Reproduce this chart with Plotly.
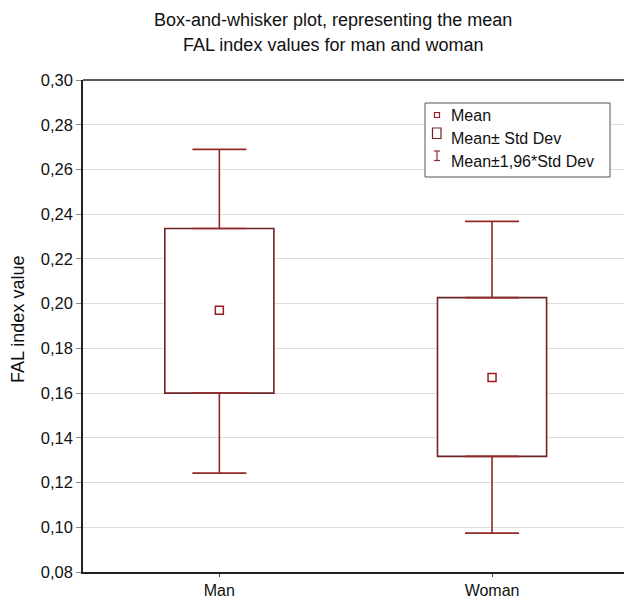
import plotly.graph_objects as go

# ---- data ----
categories = ["Man", "Woman"]
mean_vals = [0.197, 0.167]
box_low = [0.160, 0.1317]      # mean - std dev
box_high = [0.2336, 0.2027]    # mean + std dev
whisk_low = [0.1242, 0.0974]   # mean - 1.96*std dev
whisk_high = [0.269, 0.2368]   # mean + 1.96*std dev
y_ticks = [0.08, 0.10, 0.12, 0.14, 0.16, 0.18, 0.20, 0.22, 0.24, 0.26, 0.28, 0.30]

BOX_C = "#6e2424"
WH_C = "#8e2a2a"
MEAN_C = "#9a1c1c"
FONT = "Liberation Sans, Arial, sans-serif"

W, H = 624, 602
L, R, T, B = 83, 0, 80, 30
PW, PH = W - L - R, H - T - B

# x range: category spacing ~272.7px, first category 136px right of the axis
X_LEFT = -0.5
X_RIGHT = X_LEFT + PW / 272.7


def px(x):
    return (x - L) / PW


def py(y):
    return (H - B - y) / PH


fig = go.Figure()

# boxes (mean ± std dev)
fig.add_trace(go.Bar(
    x=categories,
    y=[h - l for h, l in zip(box_high, box_low)],
    base=box_low,
    width=0.4,
    marker=dict(color="white", line=dict(color=BOX_C, width=1.6)),
    showlegend=False, hoverinfo="skip",
))

# upper whiskers
fig.add_trace(go.Scatter(
    x=categories, y=box_high, mode="markers",
    marker=dict(size=1, color="rgba(0,0,0,0)"),
    error_y=dict(type="data", symmetric=False,
                 array=[w - b for w, b in zip(whisk_high, box_high)],
                 arrayminus=[0, 0], color=WH_C, thickness=1.6, width=27),
    showlegend=False, hoverinfo="skip",
))
# lower whiskers
fig.add_trace(go.Scatter(
    x=categories, y=box_low, mode="markers",
    marker=dict(size=1, color="rgba(0,0,0,0)"),
    error_y=dict(type="data", symmetric=False,
                 array=[0, 0],
                 arrayminus=[b - w for b, w in zip(box_low, whisk_low)],
                 color=WH_C, thickness=1.6, width=27),
    showlegend=False, hoverinfo="skip",
))

# means
fig.add_trace(go.Scatter(
    x=categories, y=mean_vals, mode="markers",
    marker=dict(symbol="square-open", size=8, color=MEAN_C, line=dict(width=1.5, color=MEAN_C)),
    showlegend=False, hoverinfo="skip",
))

shapes = []
annotations = []

# top frame line
shapes.append(dict(type="line", xref="paper", yref="paper", x0=0, x1=1, y0=1, y1=1,
                   line=dict(color="#222222", width=1.5), layer="above"))

# manual legend
shapes.append(dict(type="rect", xref="paper", yref="paper",
                   x0=px(425), x1=px(610), y0=py(103), y1=py(177),
                   line=dict(color="#555555", width=1), fillcolor="white", layer="above"))
# small mean square
shapes.append(dict(type="rect", xref="paper", yref="paper",
                   x0=px(434.5), x1=px(439.5), y0=py(112.5), y1=py(117.5),
                   line=dict(color=MEAN_C, width=1.2), layer="above"))
# std dev box
shapes.append(dict(type="rect", xref="paper", yref="paper",
                   x0=px(432.5), x1=px(441), y0=py(128), y1=py(138.5),
                   line=dict(color=BOX_C, width=1.2), layer="above"))
# I-beam
for seg in [((437, 151), (437, 160.5)), ((434, 151), (440, 151)), ((434, 160.5), (440, 160.5))]:
    (xa, ya), (xb, yb) = seg
    shapes.append(dict(type="line", xref="paper", yref="paper",
                       x0=px(xa), x1=px(xb), y0=py(ya), y1=py(yb),
                       line=dict(color=WH_C, width=1.2), layer="above"))

legend_texts = ["Mean", "Mean\u00b1 Std Dev", "Mean\u00b11,96*Std Dev"]
legend_ys = [115, 138.5, 161]
for t, yy in zip(legend_texts, legend_ys):
    annotations.append(dict(text=t, xref="paper", yref="paper", x=px(449), y=py(yy),
                            xanchor="left", yanchor="middle", showarrow=False,
                            font=dict(family=FONT, size=16, color="#111111")))

# title
annotations.append(dict(text="Box-and-whisker plot, representing the mean",
                        xref="paper", yref="paper", x=px(333), y=py(20),
                        xanchor="center", yanchor="middle", showarrow=False,
                        font=dict(family=FONT, size=18, color="#111111")))
annotations.append(dict(text="FAL index values for man and woman",
                        xref="paper", yref="paper", x=px(333), y=py(45),
                        xanchor="center", yanchor="middle", showarrow=False,
                        font=dict(family=FONT, size=18, color="#111111")))

# y-axis title
annotations.append(dict(text="FAL index value", xref="paper", yref="paper",
                        x=px(18), y=py(320), xanchor="center", yanchor="middle",
                        textangle=-90, showarrow=False,
                        font=dict(family=FONT, size=18, color="#111111")))

fig.update_layout(
    width=W, height=H,
    margin=dict(l=L, r=R, t=T, b=B, pad=0),
    paper_bgcolor="white", plot_bgcolor="white",
    separators=",.",
    font=dict(family=FONT, size=16, color="#111111"),
    shapes=shapes, annotations=annotations,
    showlegend=False,
    xaxis=dict(
        range=[X_LEFT, X_RIGHT],
        showline=True, linecolor="#222222", linewidth=1.5, mirror=False,
        ticks="outside", ticklen=3, tickcolor="#444444",
        showgrid=False, zeroline=False,
        tickfont=dict(family=FONT, size=16),
    ),
    yaxis=dict(
        range=[0.08, 0.30],
        tickvals=y_ticks, tickformat=".2f",
        showline=True, linecolor="#222222", linewidth=1.5, mirror=False,
        ticks="outside", ticklen=5, tickcolor="#888888",
        showgrid=True, gridcolor="#dddddd", gridwidth=1,
        zeroline=False,
        tickfont=dict(family=FONT, size=16.5),
    ),
)

fig.write_html(
    "out.html",
    config={"displayModeBar": False},
    post_script="document.body.style.margin='0';document.body.style.overflow='hidden';",
)
